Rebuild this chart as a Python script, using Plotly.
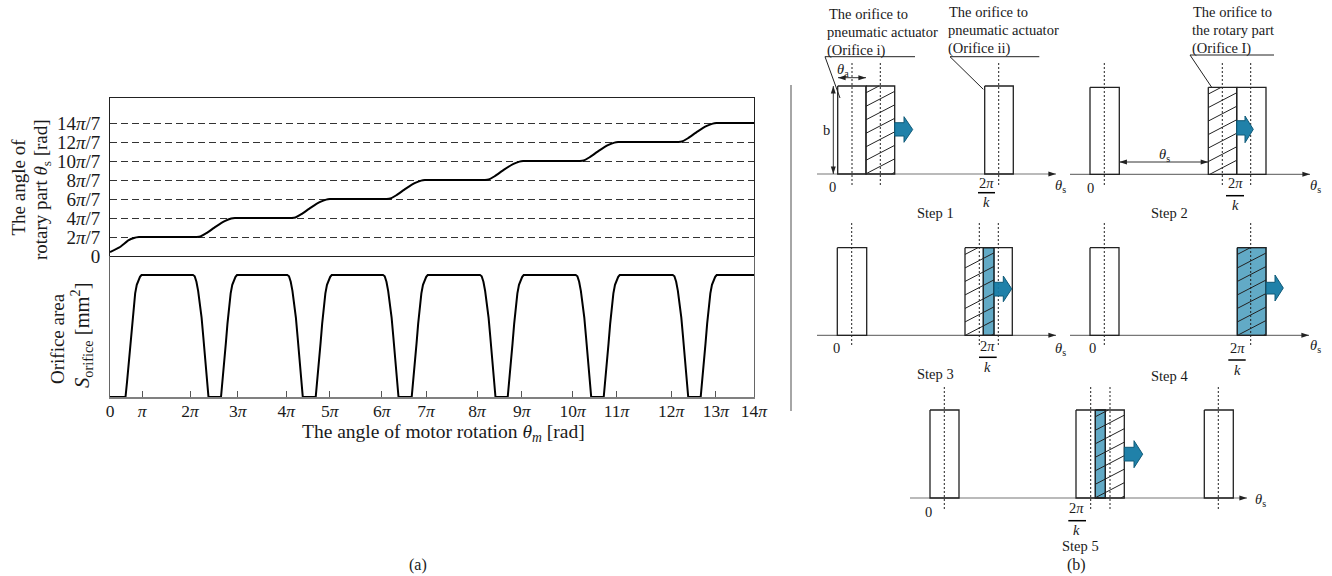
import plotly.graph_objects as go

W, H = 1332, 576
SERIF = "Liberation Serif"
INK = "#1a1a1a"

# ---------------- left chart data (x in the axis's own units, labels irregular as in the picture)
theta_x = [0, .217, .399, .52, .63,
           1.885, 1.965, 2.095, 2.30, 2.505, 2.635, 2.715,
           3.95, 4.03, 4.16, 4.365, 4.57, 4.70, 4.78,
           6.015, 6.095, 6.225, 6.43, 6.635, 6.765, 6.845,
           8.152, 8.232, 8.362, 8.567, 8.772, 8.902, 8.982,
           10.217, 10.297, 10.427, 10.632, 10.837, 10.967, 11.047,
           12.354, 12.434, 12.564, 12.769, 12.974, 13.104, 13.184,
           14]
theta_y = [.42, .95, 1.65, 1.9, 2,
           2, 2.06, 2.4, 3.1, 3.7, 3.94, 4,
           4, 4.06, 4.4, 5.1, 5.7, 5.94, 6,
           6, 6.06, 6.4, 7.1, 7.7, 7.94, 8,
           8, 8.06, 8.4, 9.1, 9.7, 9.94, 10,
           10, 10.06, 10.4, 11.1, 11.7, 11.94, 12,
           12, 12.06, 12.4, 13.1, 13.7, 13.94, 14,
           14]
area_x = [0,
          .337, .372, .407, .442, .477, .512, .547, .582, .617, .652, .685,
          1.804, 1.841, 1.879, 1.916, 1.954, 1.991, 2.029, 2.074, 2.141,
          2.413, 2.448, 2.483, 2.518, 2.553, 2.588, 2.623, 2.658, 2.693, 2.728, 2.761,
          3.854, 3.891, 3.929, 3.966, 4.004, 4.041, 4.079, 4.124, 4.191,
          4.472, 4.507, 4.542, 4.577, 4.612, 4.647, 4.682, 4.717, 4.752, 4.787, 4.820,
          5.935, 5.972, 6.010, 6.047, 6.085, 6.122, 6.160, 6.205, 6.272,
          6.559, 6.594, 6.629, 6.664, 6.699, 6.734, 6.769, 6.804, 6.839, 6.874, 6.907,
          8.043, 8.080, 8.118, 8.155, 8.193, 8.230, 8.268, 8.313, 8.380,
          8.646, 8.681, 8.716, 8.751, 8.786, 8.821, 8.856, 8.891, 8.926, 8.961, 8.994,
          10.124, 10.161, 10.199, 10.236, 10.274, 10.311, 10.349, 10.394, 10.461,
          10.733, 10.768, 10.803, 10.838, 10.873, 10.908, 10.943, 10.978, 11.013, 11.048, 11.081,
          12.233, 12.270, 12.308, 12.345, 12.383, 12.420, 12.458, 12.503, 12.570,
          12.841, 12.876, 12.911, 12.946, 12.981, 13.016, 13.051, 13.086, 13.121, 13.156, 13.189,
          14]
area_y = [0,
          0, .13, .27, .44, .6, .73, .85, .92, .96, .985, 1,
          1, .99, .945, .87, .77, .65, .49, .3, 0,
          0, .13, .27, .44, .6, .73, .85, .92, .96, .985, 1,
          1, .99, .945, .87, .77, .65, .49, .3, 0,
          0, .13, .27, .44, .6, .73, .85, .92, .96, .985, 1,
          1, .99, .945, .87, .77, .65, .49, .3, 0,
          0, .13, .27, .44, .6, .73, .85, .92, .96, .985, 1,
          1, .99, .945, .87, .77, .65, .49, .3, 0,
          0, .13, .27, .44, .6, .73, .85, .92, .96, .985, 1,
          1, .99, .945, .87, .77, .65, .49, .3, 0,
          0, .13, .27, .44, .6, .73, .85, .92, .96, .985, 1,
          1, .99, .945, .87, .77, .65, .49, .3, 0,
          0, .13, .27, .44, .6, .73, .85, .92, .96, .985, 1,
          1]
y_tick_vals = [0, 2, 4, 6, 8, 10, 12, 14]
y_tick_text = ["0", "2<i>π</i>/7", "4<i>π</i>/7", "6<i>π</i>/7", "8<i>π</i>/7",
               "10<i>π</i>/7", "12<i>π</i>/7", "14<i>π</i>/7"]
x_tick_vals = [0, .696, 1.74, 2.78, 3.83, 4.78, 5.91, 6.87, 7.98, 8.95, 10.06, 11.01, 12.2, 13.17, 14]
x_tick_text = ["0"] + [f"{n}<i>π</i>" if n > 1 else "<i>π</i>" for n in range(1, 15)]

# ---------------- schematic data (in the overlay axis units)
outline_rects = [(837.7, 866, 86, 174), (866, 894.7, 86, 174), (984.7, 1013.3, 86, 174),
                 (1090, 1119.3, 87.3, 174.3), (1208.3, 1236.7, 87.3, 174.3), (1236.7, 1266, 87.3, 174.3),
                 (837.3, 866.7, 247.7, 335.3), (965, 1012.3, 247.7, 335.3), (983.3, 994, 247.7, 335.3),
                 (1090, 1119, 247.7, 335.3), (1237.3, 1266, 247.7, 335.3),
                 (930, 959, 410, 498), (1076, 1124.3, 410, 498), (1095.3, 1105.3, 410, 498),
                 (1204.3, 1233.3, 410, 498)]
blue_rects = [(983.3, 994, 247.7, 335.3), (1237.3, 1266, 247.7, 335.3), (1095.3, 1105.3, 410, 498)]
hatch_rects = [(866, 894.7, 86, 174), (1208.3, 1236.7, 87.3, 174.3), (965, 994, 247.7, 335.3),
               (1237.3, 1266, 247.7, 335.3), (1095.3, 1124.3, 410, 498)]
dotted_lines = [(852, 63, 186.7), (880.3, 63, 186.7), (998.7, 63, 186.7),
                (1104.3, 63, 186.7), (1222.3, 63, 186.7), (1250.7, 63, 186.7),
                (851.7, 223, 346.7), (979.3, 223, 346.7), (998.3, 223, 346.7),
                (1104.3, 223, 346.7), (1250.7, 223, 346.7),
                (944.3, 387, 510), (1090.7, 387, 510), (1110, 387, 510), (1218.3, 387, 510)]
leader_lines = [((915, 56.7), (825, 56.7), (840, 98)),
                ((1039.3, 56.7), (950, 56.7), (983.3, 89.3)),
                ((1274, 55), (1190, 55), (1211.7, 87.3))]
fraction_bars = [(978, 995, 192.7), (1226, 1244, 195.7), (979, 996.7, 357.3),
                 (1228.3, 1245.7, 360), (1068.3, 1086, 520.7)]
baselines = [(817, 1056, 174), (1070, 1310, 174.3), (817, 1056, 335.3), (1070, 1309, 335.3), (910, 1247, 498)]
double_arrows = [(838, 77.7, 866, 77.7), (833.3, 86, 833.3, 174), (1119.3, 162, 1208.3, 162)]
# start x, shaft top, shaft bottom, neck x, head top, head bottom, tip x
blue_arrows = [(894.7, 122.7, 136, 904, 116.7, 142.3, 912.7),
               (1236.7, 120.7, 135, 1245, 116, 142.7, 1253.3),
               (994, 282.3, 296, 1003.3, 276, 301.7, 1011.7),
               (1266, 282.3, 294, 1275, 275, 301, 1283.3),
               (1124.3, 447.3, 461, 1134, 440.7, 467.7, 1142.7)]
THETA_S = "<i>θ</i><sub>s</sub>"
center_labels = [("b", 826.7, 130), ("0", 832.7, 186.7), ("2<i>π</i>", 986.7, 182.7), ("<i>k</i>", 986.7, 201.7),
                 (THETA_S, 1060, 186), ("Step 1", 935, 212.7),
                 ("<i>θ</i><sub>a</sub>", 843, 70), (THETA_S, 1164.3, 155),
                 ("0", 1090.7, 188), ("2<i>π</i>", 1235.7, 183), ("<i>k</i>", 1235.7, 205),
                 (THETA_S, 1315, 186), ("Step 2", 1169.3, 212.7),
                 ("0", 836, 348.3), ("2<i>π</i>", 987.7, 346), ("<i>k</i>", 987.7, 367.3),
                 (THETA_S, 1060.7, 349), ("Step 3", 935, 374.3),
                 ("0", 1092.3, 348.3), ("2<i>π</i>", 1237.3, 348.3), ("<i>k</i>", 1237.3, 370),
                 (THETA_S, 1315, 346), ("Step 4", 1169.3, 376),
                 ("0", 928.7, 511.7), ("2<i>π</i>", 1076.7, 508.3), ("<i>k</i>", 1076.7, 530),
                 (THETA_S, 1260, 500), ("Step 5", 1080, 545.7)]
left_labels = [("The orifice to", 828, 14), ("pneumatic actuator", 826, 32), ("(Orifice i)", 826, 50),
               ("The orifice to", 948, 12), ("pneumatic actuator", 947, 30), ("(Orifice ii)", 947, 48),
               ("The orifice to", 1191.7, 12), ("the rotary part", 1191, 30), ("(Orifice I)", 1191, 48)]
panel_labels = [("(a)", 418, 565), ("(b)", 1076, 565)]
divider_x, divider_top, divider_bottom = 791, 85, 411
rotated_titles = [("The angle of", 18, 187.5, 19), ("rotary part <i>θ</i><sub>s</sub> [rad]", 42, 190, 19),
                  ("Orifice area", 57, 339, 19), ("<i>S</i><sub>orifice</sub> [mm<sup>2</sup>]", 81, 335, 20.5)]
x_title = ("The angle of motor rotation <i>θ<sub>m</sub></i> [rad]", 443, 433)


def hatch_path(x0, x1, y0, y1, spacing=13.5, slope=.52):
    xs, ys = [], []
    c = y0 + spacing / 2
    end = y1 + slope * (x1 - x0)
    while c < end:
        xa = max(x0, x0 + (c - y1) / slope)
        xb = min(x1, x0 + (c - y0) / slope)
        if xb > xa:
            xs += [xa, xb, None]
            ys += [c - slope * (xa - x0), c - slope * (xb - x0), None]
        c += spacing
    return xs, ys


def overlay(xs, ys, **kw):
    return go.Scatter(x=xs, y=ys, xaxis="x3", yaxis="y3", hoverinfo="skip", showlegend=False, **kw)


fig = go.Figure()
# left chart
fig.add_trace(go.Scatter(x=theta_x, y=theta_y, mode="lines", line=dict(color="black", width=2, shape="spline", smoothing=.4),
                         xaxis="x", yaxis="y", showlegend=False, name="theta_s"))
fig.add_trace(go.Scatter(x=area_x, y=area_y, mode="lines", line=dict(color="black", width=2),
                         xaxis="x2", yaxis="y2", showlegend=False, name="S_orifice", cliponaxis=False))

# schematic
for x0, x1, y0, y1 in blue_rects:
    fig.add_trace(overlay([x0, x1, x1, x0, x0], [y0, y0, y1, y1, y0], mode="lines", fill="toself",
                          fillcolor="#62aac6", line=dict(color="#1d5f7a", width=1.2)))
hx, hy = [], []
for r in hatch_rects:
    a, b = hatch_path(*r)
    hx += a
    hy += b
fig.add_trace(overlay(hx, hy, mode="lines", line=dict(color="#222222", width=1)))
bx, by = [], []
for x0, x1, y in baselines:
    bx += [x0, x1, None]
    by += [y, y, None]
fig.add_trace(overlay(bx, by, mode="lines", line=dict(color="#777777", width=1.2)))
ox, oy = [], []
for x0, x1, y0, y1 in outline_rects:
    ox += [x0, x1, x1, x0, x0, None]
    oy += [y0, y0, y1, y1, y0, None]
fig.add_trace(overlay(ox, oy, mode="lines", line=dict(color="#222222", width=1.3)))
dx, dy = [], []
for x, y0, y1 in dotted_lines:
    dx += [x, x, None]
    dy += [y0, y1, None]
fig.add_trace(overlay(dx, dy, mode="lines", line=dict(color="#222222", width=1, dash="2px,2px")))
lx, ly = [], []
for path in leader_lines:
    lx += [p[0] for p in path] + [None]
    ly += [p[1] for p in path] + [None]
fig.add_trace(overlay(lx, ly, mode="lines", line=dict(color="#222222", width=1)))
fx, fy = [], []
for x0, x1, y in fraction_bars:
    fx += [x0, x1, None]
    fy += [y, y, None]
fig.add_trace(overlay(fx, fy, mode="lines", line=dict(color="black", width=1.5)))
for s, t, b, n, ht, hb, tip in blue_arrows:
    mid = (ht + hb) / 2
    fig.add_trace(overlay([s, n, n, tip, n, n, s, s], [t, t, ht, mid, hb, b, b, t], mode="lines", fill="toself",
                          fillcolor="rgba(20,122,164,0.95)", line=dict(color="#0f5a78", width=1)))
fig.add_trace(overlay([divider_x, divider_x], [divider_top, divider_bottom], mode="lines",
                      line=dict(color="#a6a6a6", width=2)))

# arrow heads as markers whose tips sit on the line ends
hx, hy, ha = [], [], []
for x0, x1, y in baselines:
    hx.append(x1); hy.append(y); ha.append(90)
for x0, y0, x1, y1 in double_arrows:
    if y0 == y1:
        hx += [x0, x1]; hy += [y0, y1]; ha += [270, 90]
    else:
        hx += [x0, x1]; hy += [y0, y1]; ha += [0, 180]
da_x, da_y = [], []
for x0, y0, x1, y1 in double_arrows:
    da_x += [x0, x1, None]
    da_y += [y0, y1, None]
fig.add_trace(overlay(da_x, da_y, mode="lines", line=dict(color="#333333", width=1)))
fig.add_trace(overlay(hx, hy, mode="markers", marker=dict(symbol="arrow", size=8, angle=ha, color="#222222",
                                                          line=dict(width=0))))

ann = []
def label(text, x, y, size=14.5, xanchor="center", angle=0):
    ann.append(dict(text=text, x=x, y=y, xref="x3", yref="y3", showarrow=False, xanchor=xanchor, yanchor="middle",
                    textangle=angle, font=dict(family=SERIF, size=size, color=INK), borderpad=0))

for t, x, y in center_labels:
    label(t, x, y)
for t, x, y in left_labels:
    label(t, x, y, xanchor="left")
for t, x, y in panel_labels:
    label(t, x, y, size=16)
for t, x, y, s in rotated_titles:
    label(t, x, y, size=s, angle=-90)
label(x_title[0], x_title[1], x_title[2], size=19.5)

tick_font = dict(family=SERIF, size=19, color=INK)
fig.update_layout(
    width=W, height=H, margin=dict(l=0, r=0, t=0, b=0, pad=0, autoexpand=False), autosize=False,
    paper_bgcolor="white", plot_bgcolor="rgba(0,0,0,0)", hovermode=False, showlegend=False,
    font=dict(family=SERIF, color=INK),
    annotations=ann,
    xaxis=dict(domain=[110 / W, 754 / W], range=[0, 14], anchor="y", showgrid=False, zeroline=False, ticks="",
               showticklabels=False, showline=True, mirror=True, linecolor="#222222", linewidth=1),
    yaxis=dict(domain=[1 - 256 / H, 1 - 98 / H], range=[0, 16.64], anchor="x", tickmode="array",
               tickvals=y_tick_vals, ticktext=y_tick_text, tickfont=tick_font, ticks="", ticklen=0,
               ticklabelstandoff=5,
               showgrid=True, gridcolor="#333333", gridwidth=1, griddash="7px,4px", zeroline=False,
               showline=True, mirror=True, linecolor="#222222", linewidth=1),
    xaxis2=dict(domain=[110 / W, 754 / W], range=[0, 14], anchor="y2", tickmode="array", tickvals=x_tick_vals,
                ticktext=x_tick_text, tickfont=dict(family=SERIF, size=17.5, color=INK), ticks="inside", ticklen=6,
                tickcolor="#555555", tickwidth=1, showgrid=False, zeroline=False, ticklabelstandoff=-3,
                showline=True, linecolor="#808080", linewidth=1.5),
    yaxis2=dict(domain=[1 - 397 / H, 1 - 256 / H], range=[0, 1.156], anchor="x2", showgrid=False, zeroline=False,
                ticks="", showticklabels=False, showline=True, mirror=True, linecolor="#666666", linewidth=1),
    xaxis3=dict(domain=[0, 1], range=[0, W], anchor="y3", visible=False, fixedrange=True),
    yaxis3=dict(domain=[0, 1], range=[H, 0], anchor="x3", visible=False, fixedrange=True),
)
fig.write_html("out.html", post_script="document.body.style.margin='0';document.documentElement.style.overflow='hidden';",
               config={"displayModeBar": False})
